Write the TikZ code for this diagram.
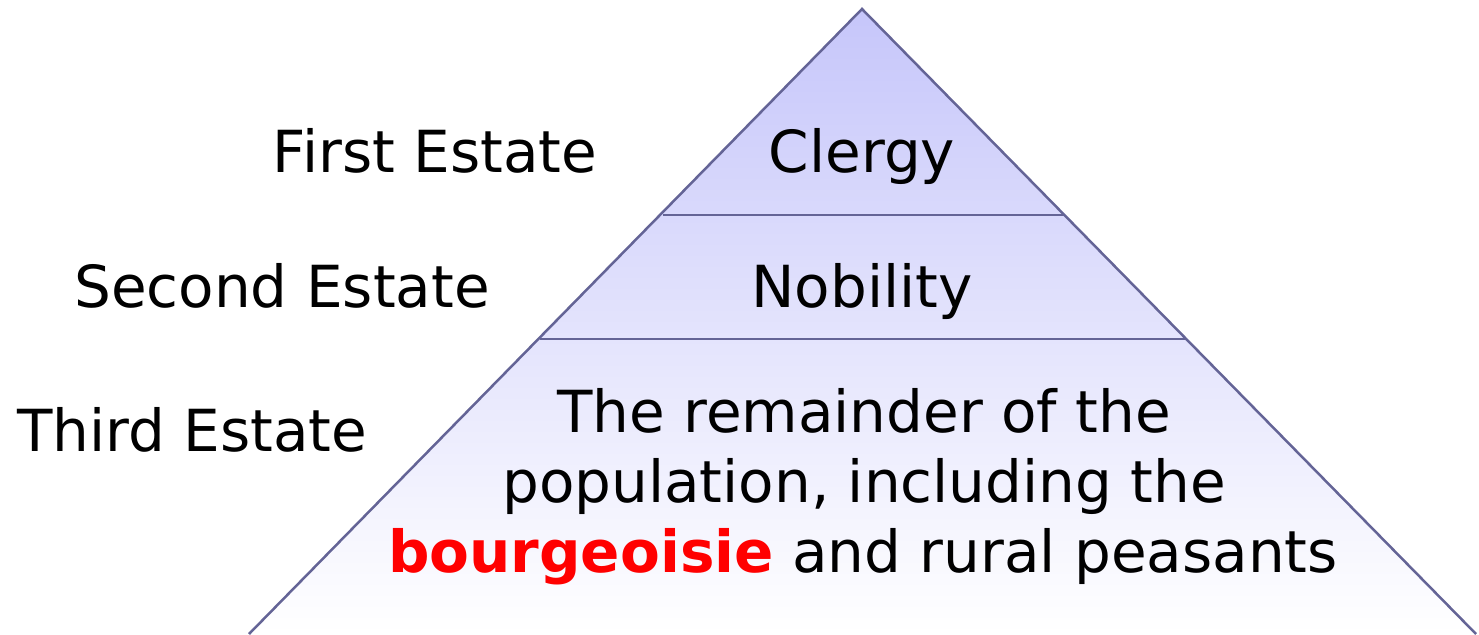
\documentclass[tikz,border=0pt]{standalone}
\usepackage{fontspec}
\setmainfont{DejaVu Sans}
\begin{document}
\definecolor{edgeblue}{RGB}{100,100,150}
\definecolor{topfill}{RGB}{198,198,250}
\definecolor{accentred}{RGB}{255,0,0}
\begin{tikzpicture}[x=1pt,y=-1pt,
  lbl/.style={font=\fontsize{58}{70}\selectfont, anchor=base, inner sep=0pt, text=black},
  edge/.style={draw=edgeblue, line width=2.5pt}]
\useasboundingbox (0,0) rectangle (1479,634);
% pyramid body with vertical gradient
\coordinate (apex) at (862,9);
\coordinate (bl) at (249,634);
\coordinate (br) at (1476,634);
\shade[top color=topfill, bottom color=white] (apex) -- (bl) -- (br) -- cycle;
\draw[edge, line join=miter] (bl) -- (apex) -- (br);
% tier dividers
\draw[edge] (663,215) -- (1065,215);
\draw[edge] (540,339) -- (1185,339);
% estate names
\node[lbl] (first)  at (435,172) {First Estate};
\node[lbl] (second) at (282,307) {Second Estate};
\node[lbl] (third)  at (192,451) {Third Estate};
% tier contents
\node[lbl] (clergy) at (862,172) {Clergy};
\node[lbl] (nobility) at (862,307) {Nobility};
\node[lbl] (rest1) at (864,432) {The remainder of the};
\node[lbl] (rest2) at (864,502) {population, including the};
\node[lbl] (rest3) at (863,572) {\textcolor{accentred}{\bfseries bourgeoisie} and rural peasants};
\end{tikzpicture}
\end{document}
